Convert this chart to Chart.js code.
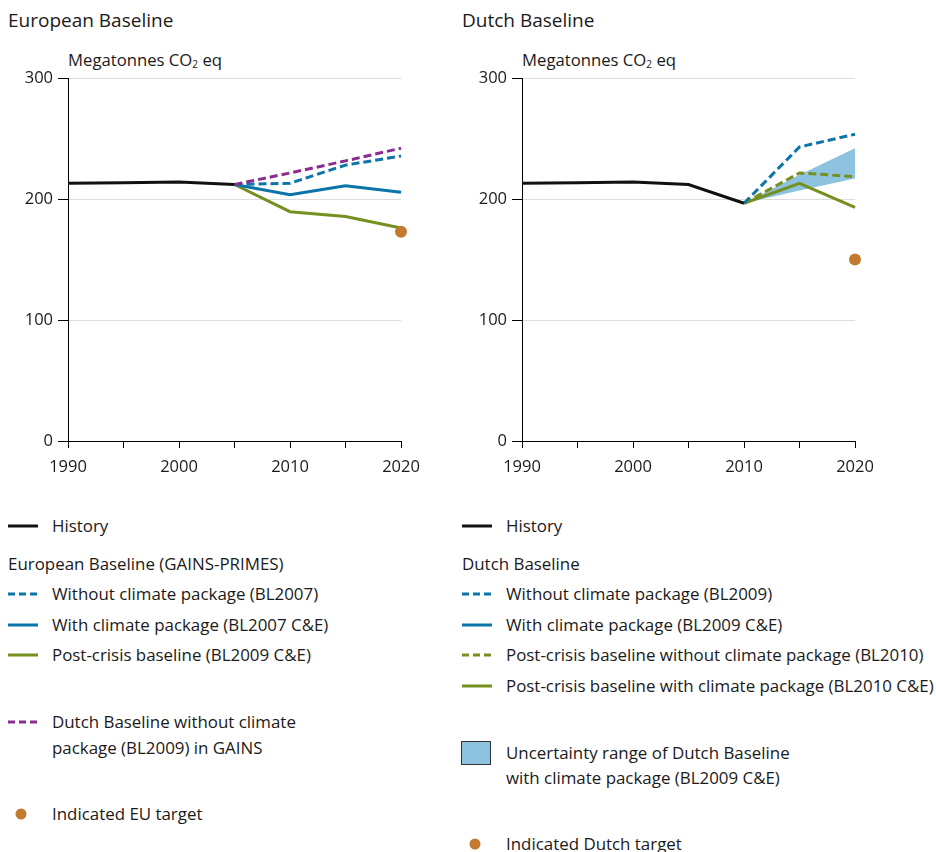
<!DOCTYPE html>
<html lang="en">
<head>
    <meta charset="UTF-8">
    <title>Greenhouse gas emissions: European and Dutch baselines</title>
    <script src="https://cdn.jsdelivr.net/npm/chart.js"></script>
    <style>
        body {
            margin: 0;
            background: #fff;
            font-family: "Open Sans", sans-serif;
            color: #1a1a1a;
        }
        #page {
            position: relative;
            width: 936px;
            height: 852px;
            overflow: hidden;
        }
        .panel-title {
            position: absolute;
            top: 7px;
            font-size: 19px;
            line-height: 26px;
        }
        .unit {
            position: absolute;
            top: 48px;
            font-size: 16.7px;
            line-height: 24px;
        }
        .unit sub {
            font-size: 10px;
            vertical-align: -2px;
        }
        .chart-box {
            position: absolute;
            top: 60px;
            width: 430px;
            height: 417px;
        }
        .row {
            position: absolute;
            font-size: 16.9px;
            line-height: 22px;
            white-space: nowrap;
        }
        .row svg {
            position: absolute;
            left: 0;
            top: 0;
        }
        .row span {
            position: absolute;
            left: 45px;
            top: 0;
        }
    </style>
</head>
<body>
<div id="page">
    <div class="panel-title" style="left: 8px;">European Baseline</div>
    <div class="panel-title" style="left: 462px;">Dutch Baseline</div>
    <div class="unit" style="left: 68px;">Megatonnes CO<sub>2</sub> eq</div>
    <div class="unit" style="left: 522px;">Megatonnes CO<sub>2</sub> eq</div>

    <div class="chart-box" style="left: 0;"><canvas id="euChart"></canvas></div>
    <div class="chart-box" style="left: 454px;"><canvas id="nlChart"></canvas></div>

    <!-- legend, European panel -->
    <div id="euLegend"></div>
    <!-- legend, Dutch panel -->
    <div id="nlLegend"></div>
</div>

<script>
    // years on the horizontal axis
    const years = ['1990', '1995', '2000', '2005', '2010', '2015', '2020'];
    const yTicks = [0, 100, 200, 300];

    // European Baseline panel (Mt CO2 eq)
    const euHistory        = [213, 213.5, 214, 212, null, null, null];
    const euWithout2007    = [null, null, null, 212, 213, 228, 235.5];
    const euWith2007       = [null, null, null, 212, 203.5, 211, 205.5];
    const euPostCrisis2009 = [null, null, null, 212, 189.5, 185.5, 176];
    const euDutchInGains   = [null, null, null, 212, 221.5, 231.5, 242];
    const euTarget         = [null, null, null, null, null, null, 173];

    // Dutch Baseline panel (Mt CO2 eq)
    const nlHistory          = [213, 213.5, 214, 212, 196.5, null, null];
    const nlWithout2009      = [null, null, null, null, 196.5, 243, 253.5];
    const nlPostCrisis2010   = [null, null, null, null, 196.5, 221.5, 218.5];
    const nlPostCrisisCE2010 = [null, null, null, null, 196.5, 213, 193];
    const nlRangeLow         = [null, null, null, null, 196.5, 207, 217];
    const nlRangeHigh        = [null, null, null, null, 196.5, 220, 242];
    const nlTarget           = [null, null, null, null, null, null, 150];

    const BLACK = '#111111';
    const BLUE = '#0b74a8';
    const GREEN = '#76901f';
    const PURPLE = '#8a2d8f';
    const ORANGE = '#c17a2e';
    const RANGE = '#8ec3e0';
    const DASH = [8, 4];

    function line(label, data, color, dashed) {
        return {
            label: label,
            data: data,
            borderColor: color,
            backgroundColor: color,
            borderWidth: 3,
            borderDash: dashed ? DASH : [],
            pointRadius: 0,
            fill: false,
            tension: 0
        };
    }

    function target(label, data) {
        return {
            label: label,
            data: data,
            showLine: false,
            pointRadius: 6,
            pointBorderWidth: 0,
            pointBackgroundColor: ORANGE,
            borderColor: ORANGE
        };
    }

    function makeChart(id, datasets) {
        return new Chart(document.getElementById(id), {
            type: 'line',
            data: { labels: years, datasets: datasets },
            options: {
                responsive: true,
                maintainAspectRatio: false,
                animation: false,
                layout: { padding: { top: 18, right: 29, left: 0, bottom: 0 } },
                plugins: {
                    legend: { display: false },
                    tooltip: { enabled: false }
                },
                scales: {
                    x: {
                        offset: false,
                        border: { color: '#000', width: 1 },
                        grid: {
                            drawOnChartArea: false,
                            drawTicks: true,
                            tickLength: 7,
                            tickColor: '#000'
                        },
                        ticks: {
                            color: '#1a1a1a',
                            font: { family: 'Open Sans', size: 16.5 },
                            padding: 9,
                            maxRotation: 0,
                            autoSkip: false,
                            callback: function(v, i) { return i % 2 === 0 ? years[i] : ''; }
                        },
                        afterFit: function(scale) { scale.height = 36; }
                    },
                    y: {
                        min: yTicks[0],
                        max: yTicks[yTicks.length - 1],
                        border: { color: '#000', width: 1 },
                        grid: {
                            color: '#dddddd',
                            tickColor: '#000',
                            tickLength: 10,
                            lineWidth: 1
                        },
                        ticks: {
                            stepSize: 100,
                            color: '#1a1a1a',
                            font: { family: 'Open Sans', size: 16.5 },
                            padding: 5
                        },
                        afterFit: function(scale) { scale.width = 68; }
                    }
                }
            }
        });
    }

    makeChart('euChart', [
        line('History', euHistory, BLACK, false),
        target('Indicated EU target', euTarget),
        line('Dutch Baseline without climate package (BL2009) in GAINS', euDutchInGains, PURPLE, true),
        line('Without climate package (BL2007)', euWithout2007, BLUE, true),
        line('With climate package (BL2007 C&E)', euWith2007, BLUE, false),
        line('Post-crisis baseline (BL2009 C&E)', euPostCrisis2009, GREEN, false)
    ]);

    makeChart('nlChart', [
        line('History', nlHistory, BLACK, false),
        target('Indicated Dutch target', nlTarget),
        line('Without climate package (BL2009)', nlWithout2009, BLUE, true),
        line('Post-crisis baseline with climate package (BL2010 C&E)', nlPostCrisisCE2010, GREEN, false),
        line('Post-crisis baseline without climate package (BL2010)', nlPostCrisis2010, GREEN, true),
        {
            label: 'range low',
            data: nlRangeLow,
            borderWidth: 0,
            pointRadius: 0,
            fill: false
        },
        {
            label: 'Uncertainty range of Dutch Baseline with climate package (BL2009 C&E)',
            data: nlRangeHigh,
            borderWidth: 0,
            pointRadius: 0,
            backgroundColor: RANGE,
            fill: '-1'
        }
    ]);

    // one legend row: symbol at the left, text beside it, centred on y
    function legendRow(x, y, kind, color, text) {
        let sym = '';
        if (kind === 'solid' || kind === 'dash') {
            sym = '<svg width="32" height="22"><line x1="1" y1="11" x2="31" y2="11" stroke="' + color +
                  '" stroke-width="3"' + (kind === 'dash' ? ' stroke-dasharray="7 4"' : '') + '/></svg>';
        } else if (kind === 'dot') {
            sym = '<svg width="32" height="22"><circle cx="14" cy="11" r="5.5" fill="' + color + '"/></svg>';
        } else if (kind === 'box') {
            sym = '<svg width="32" height="26"><rect x="0.5" y="0.5" width="29" height="23" fill="' + color +
                  '" stroke="#333" stroke-width="1"/></svg>';
        }
        const left = kind === 'head' ? 0 : 45;
        return '<div class="row" style="left:' + x + 'px;top:' + (y - 11) + 'px;">' + sym +
               '<span style="left:' + left + 'px">' + text + '</span></div>';
    }

    document.getElementById('euLegend').innerHTML =
        legendRow(7, 526, 'solid', BLACK, 'History') +
        legendRow(8, 564, 'head', null, 'European Baseline (GAINS-PRIMES)') +
        legendRow(7, 594, 'dash', BLUE, 'Without climate package (BL2007)') +
        legendRow(7, 625, 'solid', BLUE, 'With climate package (BL2007 C&amp;E)') +
        legendRow(7, 655, 'solid', GREEN, 'Post-crisis baseline (BL2009 C&amp;E)') +
        legendRow(7, 722, 'dash', PURPLE, 'Dutch Baseline without climate') +
        legendRow(7, 748, 'none', null, 'package (BL2009) in GAINS') +
        legendRow(7, 814, 'dot', ORANGE, 'Indicated EU target');

    document.getElementById('nlLegend').innerHTML =
        legendRow(461, 526, 'solid', BLACK, 'History') +
        legendRow(462, 564, 'head', null, 'Dutch Baseline') +
        legendRow(461, 594, 'dash', BLUE, 'Without climate package (BL2009)') +
        legendRow(461, 625, 'solid', BLUE, 'With climate package (BL2009 C&amp;E)') +
        legendRow(461, 655, 'dash', GREEN, 'Post-crisis baseline without climate package (BL2010)') +
        legendRow(461, 686, 'solid', GREEN, 'Post-crisis baseline with climate package (BL2010 C&amp;E)') +
        legendRow(461, 752, 'box', RANGE, '') +
        legendRow(461, 753, 'none', null, 'Uncertainty range of Dutch Baseline') +
        legendRow(461, 778, 'none', null, 'with climate package (BL2009 C&amp;E)') +
        legendRow(461, 844, 'dot', ORANGE, 'Indicated Dutch target');
</script>
</body>
</html>
